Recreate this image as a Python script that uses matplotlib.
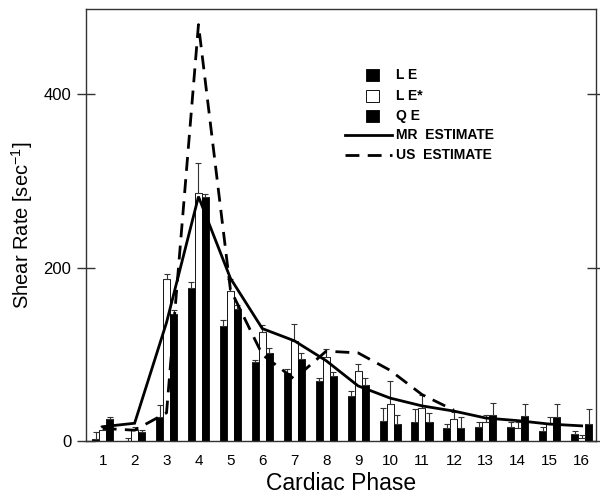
import numpy as np
import matplotlib
matplotlib.use('Agg')
from matplotlib import pyplot as plt
from matplotlib.patches import Rectangle

# --- Data

phases = [1, 2, 3, 4, 5, 6, 7, 8, 9, 10, 11, 12, 13, 14, 15, 16]

le_vals = [3, 1, 28, 177, 133, 91, 79, 70, 52, 24, 22, 15, 17, 17, 12, 9]
le_err = [8, 3, 14, 7, 7, 3, 5, 3, 6, 15, 15, 5, 5, 5, 5, 3]

les_vals = [13, 13, 187, 286, 173, 126, 116, 97, 81, 43, 39, 26, 22, 15, 21, 4]
les_err = [5, 4, 6, 35, 14, 8, 19, 10, 8, 27, 14, 8, 8, 7, 7, 3]

qe_vals = [26, 11, 147, 281, 152, 102, 95, 75, 65, 20, 22, 16, 31, 29, 28, 20]
qe_err = [2, 2, 4, 4, 5, 6, 7, 5, 8, 11, 11, 12, 13, 14, 15, 17]

mr_est = [17, 21, 137, 282, 188, 130, 116, 93, 64, 50, 41, 35, 27, 24, 20, 18]

us_phases = [1, 2, 3, 4, 5, 6, 7, 8, 9, 10, 11, 12]
us_est = [15, 13, 33, 480, 175, 100, 72, 104, 102, 82, 54, 36]

yticks = [0, 200, 400]

# --- Style

plt.rcParams['font.family'] = ['Liberation Sans', 'DejaVu Sans']
plt.rcParams['mathtext.default'] = 'regular'

BAR_W = 0.22
EDGE = '#111111'
DASH = (0, (5, 3))

fig = plt.figure(figsize=(6.0, 4.97), dpi=100)
ax = fig.add_axes([0.1433, 0.1117, 0.9928 - 0.1433, 0.9819 - 0.1117])

x = np.array(phases, dtype=float)
err_kw = dict(ecolor='#333333', elinewidth=0.8, capsize=2, capthick=0.8)

ax.bar(x - BAR_W, le_vals, BAR_W, color='black', edgecolor='black', linewidth=0.6,
       yerr=[np.zeros(len(le_err)), le_err], error_kw=err_kw, zorder=2)
ax.bar(x, les_vals, BAR_W, color='white', edgecolor=EDGE, linewidth=0.7,
       yerr=[np.zeros(len(les_err)), les_err], error_kw=err_kw, zorder=2)
ax.bar(x + BAR_W, qe_vals, BAR_W, color='black', edgecolor='black', linewidth=0.6,
       yerr=[np.zeros(len(qe_err)), qe_err], error_kw=err_kw, zorder=2)

ax.plot(phases, mr_est, color='black', linewidth=2.0, solid_joinstyle='miter', zorder=3)
ax.plot(us_phases, us_est, color='black', linewidth=2.0, linestyle=DASH, zorder=3)

ax.set_xlim(0.477, 16.44)
ax.set_ylim(0, 498)
ax.set_xticks(phases)
ax.set_yticks(yticks)

ax.tick_params(axis='x', length=0, pad=9, labelsize=11)
ax.tick_params(axis='y', direction='inout', length=13, width=1, pad=4,
               labelsize=12, right=True, color='#333333')
for sp in ax.spines.values():
    sp.set_linewidth(1.0)
    sp.set_color('#333333')

ax.set_xlabel('Cardiac Phase', fontsize=16.5, labelpad=3)
ax.set_ylabel('Shear Rate [sec$^{-1}$]', fontsize=14.5, labelpad=6)

# --- Legend drawn by hand (mixed handle sizes)

def px_to_ax(px, py):
    return ((px - 86) / (595.7 - 86), (441.5 - py) / (441.5 - 9))

leg_font = dict(fontsize=10, fontweight='bold', va='center', ha='left', transform=ax.transAxes)
text_x = 396
rows = [75, 96, 116, 135, 155]
labels = ['L E', 'L E*', 'Q E', 'MR  ESTIMATE', 'US  ESTIMATE']
for i, (py, lab) in enumerate(zip(rows, labels)):
    tx, ty = px_to_ax(text_x, py)
    ax.text(tx, ty, lab, **leg_font)
    if i < 3:
        x0, y0 = px_to_ax(366, py + 6)
        x1, y1 = px_to_ax(379, py - 6)
        face = 'white' if i == 1 else 'black'
        ax.add_patch(Rectangle((x0, y0), x1 - x0, y1 - y0, transform=ax.transAxes,
                               facecolor=face, edgecolor=EDGE, linewidth=0.7))
    else:
        lx0, ly = px_to_ax(345, py)
        lx1, _ = px_to_ax(392, py)
        ls = '-' if i == 3 else DASH
        ax.plot([lx0, lx1], [ly, ly], color='black', linewidth=2.0, linestyle=ls,
                transform=ax.transAxes)

plt.savefig('out.png', dpi=100)
